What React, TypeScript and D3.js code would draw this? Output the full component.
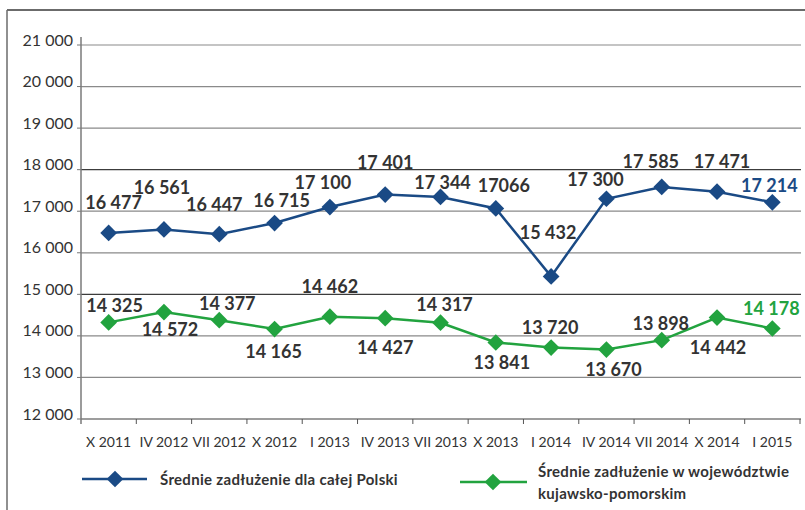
import React from "react";
import * as d3 from "d3";

const categories = ["X 2011", "IV 2012", "VII 2012", "X 2012", "I 2013", "IV 2013", "VII 2013", "X 2013", "I 2014", "IV 2014", "VII 2014", "X 2014", "I 2015"];
const polska = [16477, 16561, 16447, 16715, 17100, 17401, 17344, 17066, 15432, 17300, 17585, 17471, 17214];
const kujawsko = [14325, 14572, 14377, 14165, 14462, 14427, 14317, 13841, 13720, 13670, 13898, 14442, 14178];
const polskaLabels = ["16 477", "16 561", "16 447", "16 715", "17 100", "17 401", "17 344", "17066", "15 432", "17 300", "17 585", "17 471", "17 214"];
const kujawskoLabels = ["14 325", "14 572", "14 377", "14 165", "14 462", "14 427", "14 317", "13 841", "13 720", "13 670", "13 898", "14 442", "14 178"];
const yTicks = [12000, 13000, 14000, 15000, 16000, 17000, 18000, 19000, 20000, 21000];
const legendPolska = "Średnie zadłużenie dla całej Polski";
const legendKujawsko = ["Średnie zadłużenie w województwie", "kujawsko-pomorskim"];

// label placement offsets (layout only)
const polskaOffsets: [number, number][] = [[5, -30], [-2, -42], [-5, -30], [7, -23], [-7, -25], [0, -32], [2, -14], [8, -23], [-3, -44], [-11, -19], [-11, -25], [5, -30], [-3, -17]];
const kujawskoOffsets: [number, number][] = [[6, -17], [6, 17], [8, -17], [-1, 22], [0, -30], [0, 29], [4, -18], [6, 20], [-1, -20], [7, 20], [-1, -17], [1, 30], [-1, -20]];

const BLUE = "#1a4a85";
const GREEN = "#22a33f";
const TEXT = "#333333";
const FONT = "Lato, 'Open Sans', sans-serif";

export default function App() {
  const x = d3.scaleBand<string>().domain(categories).range([81, 800]).paddingInner(0).paddingOuter(0);
  const y = d3.scaleLinear().domain([12000, 21000]).range([419, 45]);
  const cx = (i: number) => (x(categories[i]) as number) + x.bandwidth() / 2;
  const line = d3.line<number>().x((_, i) => cx(i)).y((d) => y(d));
  const diamond = d3.symbol().type(d3.symbolSquare).size(140)();

  const darkLines = new Set([12000, 15000, 18000]);

  const series = [
    { values: polska, labels: polskaLabels, offsets: polskaOffsets, color: BLUE },
    { values: kujawsko, labels: kujawskoLabels, offsets: kujawskoOffsets, color: GREEN },
  ];

  return (
    <svg width={805} height={510} style={{ position: "absolute", left: 0, top: 0, background: "#fff" }} fontFamily={FONT}>
      {/* frame */}
      <line x1={7} x2={7} y1={10} y2={510} stroke="#6b6b6b" strokeWidth={1.5} />
      <line x1={7} x2={805} y1={10} y2={10} stroke="#6b6b6b" strokeWidth={2} />

      {/* gridlines */}
      {yTicks.map((t) => (
        <g key={t}>
          <line x1={81} x2={801} y1={y(t)} y2={y(t)} stroke={darkLines.has(t) ? "#3c3c3c" : "#8a8a8a"} strokeWidth={1.2} />
          <line x1={77} x2={81} y1={y(t)} y2={y(t)} stroke="#777" strokeWidth={1} />
          <text x={73} y={y(t) + 0.5} textAnchor="end" fontSize={16} fill={TEXT}>
            {d3.format(",")(t).replace(",", " ")}
          </text>
        </g>
      ))}
      {/* y axis */}
      <line x1={81} x2={81} y1={37} y2={424} stroke="#7a7a7a" strokeWidth={1.5} />

      {/* x ticks */}
      {categories.map((c, i) => (
        <g key={c}>
          <line x1={(x(c) as number) + x.bandwidth()} x2={(x(c) as number) + x.bandwidth()} y1={419} y2={424} stroke="#555" strokeWidth={1} />
          <text x={cx(i)} y={447} textAnchor="middle" fontSize={14} fill={TEXT}>
            {c}
          </text>
        </g>
      ))}

      {/* series */}
      {series.map((s, si) => (
        <g key={si}>
          <path d={line(s.values) as string} fill="none" stroke={s.color} strokeWidth={2.5} />
          {s.values.map((v, i) => (
            <path key={i} d={diamond as string} transform={`translate(${cx(i)},${y(v)}) rotate(45)`} fill={s.color} />
          ))}
          {s.values.map((v, i) => (
            <text
              key={"l" + i}
              x={cx(i) + s.offsets[i][0]}
              y={y(v) + s.offsets[i][1]}
              dy="0.36em"
              textAnchor="middle"
              fontSize={18}
              fontWeight={700}
              fill={i === s.values.length - 1 ? s.color : TEXT}
            >
              {s.labels[i]}
            </text>
          ))}
        </g>
      ))}

      {/* legend */}
      <line x1={82} x2={147} y1={479} y2={479} stroke={BLUE} strokeWidth={2.5} />
      <path d={diamond as string} transform="translate(115,479) rotate(45)" fill={BLUE} />
      <text x={160} y={485} fontSize={15} fontWeight={700} letterSpacing={0.3} fill={TEXT}>
        {legendPolska}
      </text>

      <line x1={460} x2={527} y1={482} y2={482} stroke={GREEN} strokeWidth={2.5} />
      <path d={diamond as string} transform="translate(493,482) rotate(45)" fill={GREEN} />
      <text x={538} y={477} fontSize={15} fontWeight={700} letterSpacing={0.3} fill={TEXT}>
        {legendKujawsko[0]}
      </text>
      <text x={538} y={499} fontSize={15} fontWeight={700} letterSpacing={0.3} fill={TEXT}>
        {legendKujawsko[1]}
      </text>
    </svg>
  );
}
